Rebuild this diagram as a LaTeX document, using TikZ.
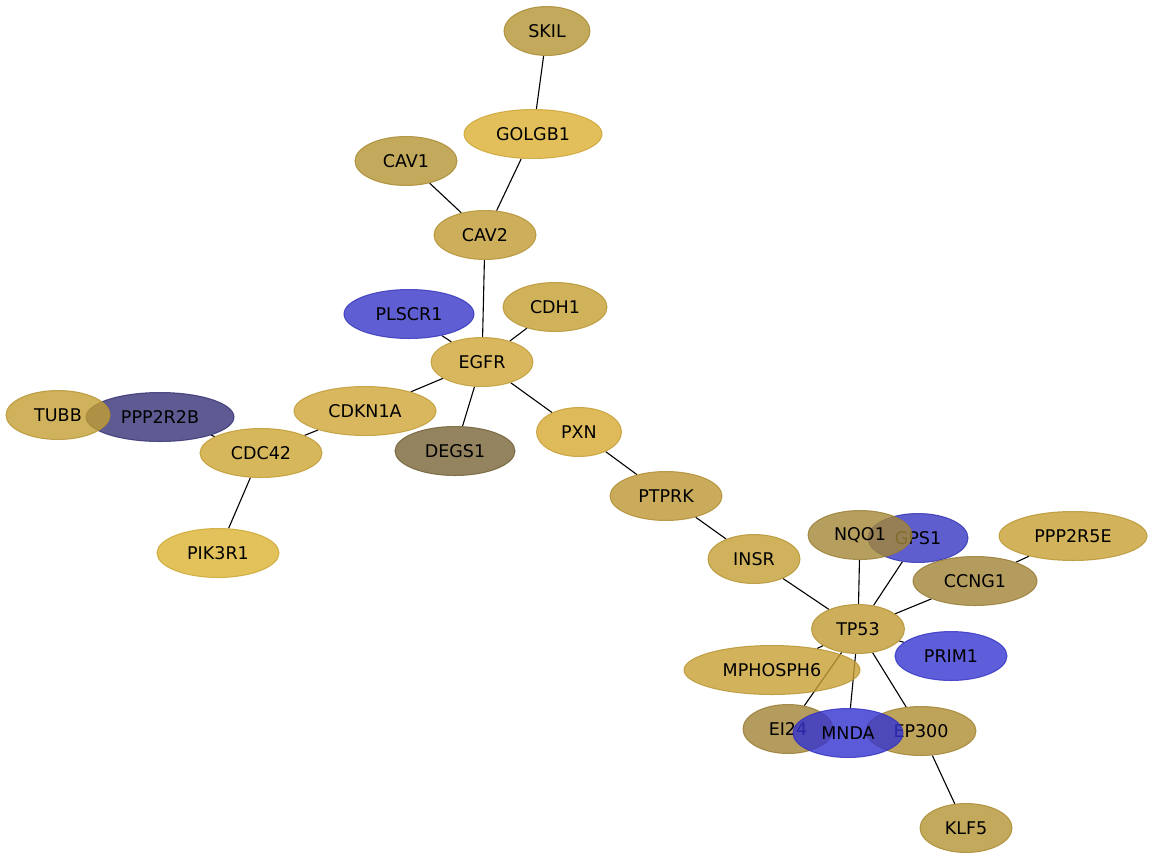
\documentclass[tikz,border=0pt]{standalone}
\usepackage{fontspec}
\setmainfont{DejaVu Sans}
\usetikzlibrary{shapes.geometric}
\pgfdeclarelayer{background}
\pgfsetlayers{background,main}
\definecolor{cSKIL}{RGB}{181,148,51}
\definecolor{cGOLGB}{RGB}{220,176,51}
\definecolor{cCAV}{RGB}{192,154,51}
\definecolor{cCDH}{RGB}{197,159,51}
\definecolor{cBlue}{RGB}{55,55,201}
\definecolor{cEGFR}{RGB}{207,166,54}
\definecolor{cDEGS}{RGB}{121,101,55}
\definecolor{cPXN}{RGB}{214,169,51}
\definecolor{cTUBB}{RGB}{196,159,51}
\definecolor{cPPP}{RGB}{54,51,121}
\definecolor{cCDC}{RGB}{206,165,51}
\definecolor{cPIK}{RGB}{220,179,51}
\definecolor{cPTP}{RGB}{189,151,51}
\definecolor{cNQO}{RGB}{164,136,54}
\definecolor{cGPS}{RGB}{54,54,194}
\definecolor{cPPE}{RGB}{199,160,51}
\definecolor{cCCN}{RGB}{162,132,54}
\definecolor{cPRIM}{RGB}{54,54,211}
\definecolor{cMNDA}{RGB}{51,51,209}
\definecolor{cEP}{RGB}{174,140,51}
\tikzset{
  gene/.style={ellipse, inner sep=0pt, minimum height=49pt, fill opacity=0.8, draw opacity=0.8, text opacity=1,
    line width=1pt, font=\fontsize{17.5pt}{20pt}\selectfont, text=black},
  gc/.style={gene, fill=#1, draw=#1!92!black},
  link/.style={line width=1.1pt, black}
}
\begin{document}
\begin{tikzpicture}[x=1pt,y=-1pt]
\useasboundingbox (0,0) rectangle (1154,860);
\node[gc=cSKIL, minimum width=86pt] (SKIL) at (547,31) {SKIL};
\node[gc=cGOLGB, minimum width=138pt] (GOLGB1) at (533,134) {GOLGB1};
\node[gc=cSKIL, minimum width=102pt] (CAV1) at (406,161) {CAV1};
\node[gc=cCAV, minimum width=102pt] (CAV2) at (485,235) {CAV2};
\node[gc=cCDH, minimum width=104pt] (CDH1) at (555,307) {CDH1};
\node[gc=cBlue, minimum width=130pt] (PLSCR1) at (409,314) {PLSCR1};
\node[gc=cEGFR, minimum width=102pt] (EGFR) at (482,362) {EGFR};
\node[gc=cEGFR, minimum width=142pt] (CDKN1A) at (365,411) {CDKN1A};
\node[gc=cDEGS, minimum width=120pt] (DEGS1) at (455,451) {DEGS1};
\node[gc=cPXN, minimum width=85pt] (PXN) at (579,432) {PXN};
\node[gc=cPPP, minimum width=148pt] (PPP2R2B) at (160,417) {PPP2R2B};
\node[gc=cTUBB, minimum width=104pt] (TUBB) at (58,415) {TUBB};
\node[gc=cCDC, minimum width=122pt] (CDC42) at (261,453) {CDC42};
\node[gc=cPIK, minimum width=122pt] (PIK3R1) at (218,553) {PIK3R1};
\node[gc=cPTP, minimum width=112pt] (PTPRK) at (666,496) {PTPRK};
\node[gc=cTUBB, minimum width=92pt] (INSR) at (754,559) {INSR};
\node[gc=cGPS, minimum width=100pt] (GPS1) at (918,538) {GPS1};
\node[gc=cNQO, minimum width=104pt] (NQO1) at (860,535) {NQO1};
\node[gc=cPPE, minimum width=148pt] (PPP2R5E) at (1073,536) {PPP2R5E};
\node[gc=cCCN, minimum width=124pt] (CCNG1) at (975,581) {CCNG1};
\node[gc=cCAV, minimum width=93pt] (TP53) at (858,629) {TP53};
\node[gc=cPRIM, minimum width=112pt] (PRIM1) at (951,656) {PRIM1};
\node[gc=cPPE, minimum width=176pt] (MPHOSPH6) at (772,670) {MPHOSPH6};
\node[gc=cCCN, minimum width=90pt] (EI24) at (788,729) {EI24};
\node[gc=cEP, minimum width=110pt] (EP300) at (921,731) {EP300};
\node[gc=cMNDA, minimum width=110pt] (MNDA) at (848,733) {MNDA};
\node[gc=cSKIL, minimum width=92pt] (KLF5) at (966,828) {KLF5};
\begin{pgfonlayer}{background}
\fill[white] (0,0) rectangle (1154,860);
\draw[link] (SKIL) -- (GOLGB1);
\draw[link] (GOLGB1) -- (CAV2);
\draw[link] (CAV1) -- (CAV2);
\draw[link] (CAV2) -- (EGFR);
\draw[link] (CDH1) -- (EGFR);
\draw[link] (PLSCR1) -- (EGFR);
\draw[link] (EGFR) -- (CDKN1A);
\draw[link] (EGFR) -- (DEGS1);
\draw[link] (EGFR) -- (PXN);
\draw[link] (CDKN1A) -- (CDC42);
\draw[link] (PPP2R2B) -- (CDC42);
\draw[link] (CDC42) -- (PIK3R1);
\draw[link] (PXN) -- (PTPRK);
\draw[link] (PTPRK) -- (INSR);
\draw[link] (INSR) -- (TP53);
\draw[link] (NQO1) -- (TP53);
\draw[link] (GPS1) -- (TP53);
\draw[link] (CCNG1) -- (TP53);
\draw[link] (CCNG1) -- (PPP2R5E);
\draw[link] (TP53) -- (PRIM1);
\draw[link] (TP53) -- (MPHOSPH6);
\draw[link] (TP53) -- (EI24);
\draw[link] (TP53) -- (MNDA);
\draw[link] (TP53) -- (EP300);
\draw[link] (EP300) -- (KLF5);
\end{pgfonlayer}
\end{tikzpicture}
\end{document}
